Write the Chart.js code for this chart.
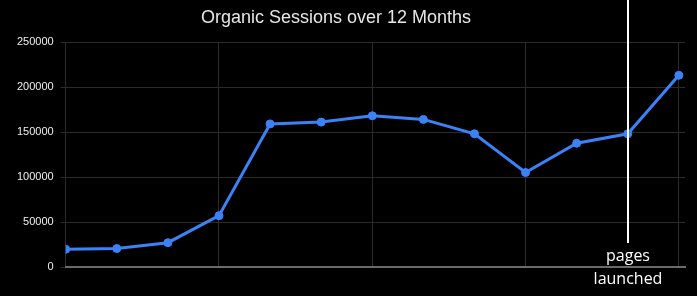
<!DOCTYPE html>
<html lang="en">
<head>
    <meta charset="UTF-8">
    <title>Organic Sessions over 12 Months</title>
    <script src="https://cdn.jsdelivr.net/npm/chart.js"></script>
    <style>
        body {
            margin: 0;
            padding: 0;
            background-color: #000;
        }

        #chart-container {
            width: 697px;
            height: 296px;
        }
    </style>
</head>
<body>

    <div id="chart-container">
        <canvas id="sessions-chart"></canvas>
    </div>

    <script>
        // month index 0..12 along the x axis
        const months = [0, 1, 2, 3, 4, 5, 6, 7, 8, 9, 10, 11, 12];
        const sessions = [19700, 20500, 27000, 57000, 159000, 161000, 168000, 164000, 148000, 105000, 137500, 148000, 213000];
        const yTicks = [0, 50000, 100000, 150000, 200000, 250000];
        const launchMonth = 11;
        const launchLabel = ['pages', 'launched'];
        const chartTitle = 'Organic Sessions over 12 Months';

        // title drawn by hand so it can sit slightly left of centre, like the original
        const titlePlugin = {
            id: 'titleText',
            afterDraw(chart) {
                const ctx = chart.ctx;
                ctx.save();
                ctx.fillStyle = '#e6e6e6';
                ctx.font = '18px "Liberation Sans", Arial, sans-serif';
                ctx.textAlign = 'center';
                ctx.textBaseline = 'alphabetic';
                ctx.fillText(chartTitle, 336, 23);
                ctx.restore();
            }
        };

        // white marker line + label for the launch month
        const launchPlugin = {
            id: 'launchMarker',
            afterDatasetsDraw(chart) {
                const ctx = chart.ctx;
                const x = Math.round(chart.scales.x.getPixelForValue(launchMonth));
                ctx.save();
                ctx.strokeStyle = '#ffffff';
                ctx.lineWidth = 2;
                ctx.beginPath();
                ctx.moveTo(x, 0);
                ctx.lineTo(x, 243);
                ctx.stroke();
                ctx.fillStyle = '#ffffff';
                ctx.font = '16px "Open Sans", "Noto Sans", sans-serif';
                ctx.textAlign = 'center';
                ctx.fillText(launchLabel[0], x, 261);
                ctx.fillText(launchLabel[1], x, 284);
                ctx.restore();
            }
        };

        new Chart(document.getElementById('sessions-chart'), {
            type: 'line',
            data: {
                datasets: [{
                    label: 'Organic Sessions',
                    data: months.map((m, i) => ({ x: m, y: sessions[i] })),
                    borderColor: '#3b82f6',
                    backgroundColor: '#3b82f6',
                    borderWidth: 3,
                    pointRadius: 4,
                    pointBorderWidth: 1,
                    pointHoverRadius: 4,
                    tension: 0
                }]
            },
            options: {
                responsive: true,
                maintainAspectRatio: false,
                animation: false,
                layout: {
                    padding: { left: 10, right: 12, top: 42, bottom: 29 }
                },
                plugins: {
                    legend: { display: false },
                    title: { display: false },
                    tooltip: { enabled: false }
                },
                scales: {
                    x: {
                        type: 'linear',
                        min: 0,
                        max: 12.12,
                        ticks: {
                            display: false,
                            stepSize: 3,
                            includeBounds: false
                        },
                        grid: {
                            color: '#2b2b2b',
                            drawTicks: false
                        },
                        border: { color: '#6a6a6a', width: 2 }
                    },
                    y: {
                        min: 0,
                        max: 250000,
                        afterBuildTicks: (axis) => {
                            axis.ticks = yTicks.map(v => ({ value: v }));
                        },
                        ticks: {
                            color: '#eeeeee',
                            padding: 7,
                            font: { size: 11, family: '"Liberation Sans", Arial, sans-serif' },
                            callback: (v) => String(v)
                        },
                        grid: {
                            color: '#2b2b2b',
                            tickLength: 5
                        },
                        border: { display: false }
                    }
                }
            },
            plugins: [titlePlugin, launchPlugin]
        });
    </script>

</body>
</html>
